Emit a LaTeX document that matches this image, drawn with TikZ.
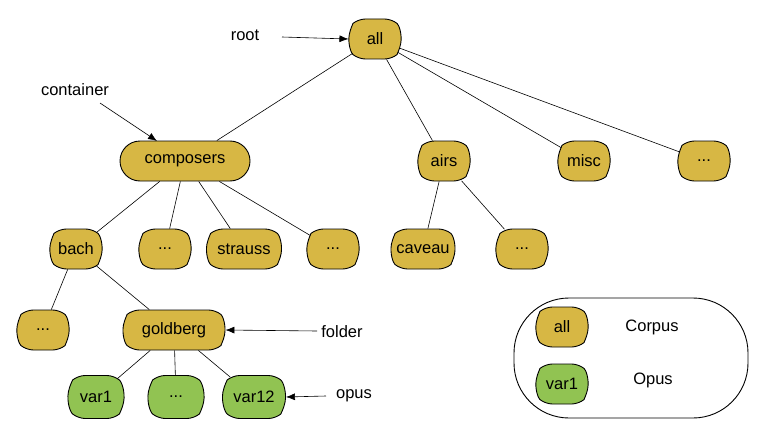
\documentclass[tikz,border=0pt]{standalone}
\usepackage{fontspec}
\setmainfont{Liberation Sans}
\usetikzlibrary{arrows.meta,shapes.misc}

\definecolor{corpusgold}{RGB}{215,183,68}
\definecolor{opusgreen}{RGB}{145,195,82}

\tikzset{
  box/.style={draw=black, line width=0.9pt, rounded rectangle, rounded rectangle arc length=100,
    rounded corners=7pt, minimum height=40pt, minimum width=50pt, inner xsep=6pt,
    font=\fontsize{16.5}{19}\selectfont},
  corpus/.style={box, fill=corpusgold},
  opus/.style={box, fill=opusgreen},
  pill/.style={corpus, rounded corners=0pt, rounded rectangle arc length=180},
  lbl/.style={font=\fontsize{16.5}{19}\selectfont},
  edge/.style={draw=black, line width=0.6pt},
  pointer/.style={draw=black, line width=0.6pt, -{Latex[length=9pt,width=7pt]}},
}

\begin{document}
\begin{tikzpicture}[x=1pt,y=-1pt]
  \useasboundingbox (0,0) rectangle (767,433);

  % tree
  \node[corpus] (all) at (375,39) {all};
  \node[pill, minimum width=142pt] (composers) at (185,161) {composers};
  \node[corpus, minimum width=53pt] (airs) at (444,161) {airs};
  \node[corpus, minimum width=54pt] (misc) at (584,161) {misc};
  \node[corpus] (alldots) at (704,161) {...};

  \node[corpus] (bach) at (76,249) {bach};
  \node[corpus] (compdotsa) at (165,249) {...};
  \node[corpus, minimum width=87pt] (strauss) at (244,249) {strauss};
  \node[corpus] (compdotsb) at (333,249) {...};
  \node[corpus, minimum width=76pt] (caveau) at (423,249) {caveau};
  \node[corpus] (airsdots) at (522,249) {...};

  \node[corpus] (bachdots) at (43,330) {...};
  \node[corpus, minimum width=114pt] (goldberg) at (174,330) {goldberg};

  \node[opus, minimum height=43pt] (var1) at (96,397) {var1};
  \node[opus, minimum height=43pt] (vardots) at (176,397) {...};
  \node[opus, minimum height=43pt, minimum width=75pt] (var12) at (254,397) {var12};

  \foreach \a/\b in {all/composers, all/airs, all/misc, all/alldots,
      composers/bach, composers/compdotsa, composers/strauss, composers/compdotsb,
      airs/caveau, airs/airsdots, bach/bachdots, bach/goldberg,
      goldberg/var1, goldberg/vardots, goldberg/var12}
    \draw[edge] (\a) -- (\b);

  % pointers
  \node[lbl] (root) at (245,35) {root};
  \coordinate (roottail) at (282,37);
  \draw[pointer] (roottail) -- (all.west);

  \node[lbl] (container) at (75,90) {container};
  \coordinate (containertail) at (100,103);
  \coordinate (containerhead) at (157,141);
  \draw[pointer] (containertail) -- (containerhead);

  \node[lbl] (folder) at (342,332) {folder};
  \coordinate (foldertail) at (317,331);
  \draw[pointer] (foldertail) -- (goldberg.east);

  \node[lbl] (opuslbl) at (354,396) {opus};
  \coordinate (opustail) at (326,396);
  \draw[pointer] (opustail) -- (var12.east);

  % legend
  \draw[line width=0.9pt, rounded corners=55pt] (514,298) rectangle (748,418);
  \node[corpus] (keycorpus) at (562,327) {all};
  \node[opus] (keyopus) at (562,384) {var1};
  \node[lbl] (corpustext) at (652,327) {Corpus};
  \node[lbl] (opustext) at (653,380) {Opus};
\end{tikzpicture}
\end{document}
